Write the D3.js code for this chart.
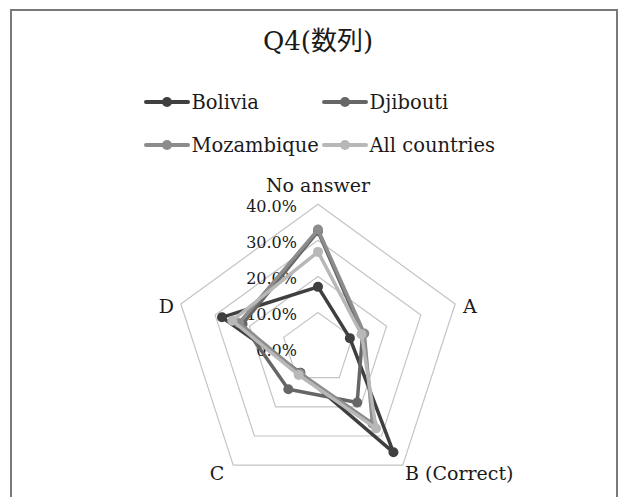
<!DOCTYPE html>
<html>
<head>
<meta charset="utf-8">
<script src="https://cdn.jsdelivr.net/npm/d3@7"></script>
<style>
  html, body { margin: 0; padding: 0; background: #ffffff; }
  svg { display: block; }
  text { font-family: "DejaVu Serif", "Noto Sans CJK JP", serif; fill: #1a1a1a; }
</style>
</head>
<body>
<svg id="chart" width="625" height="497"></svg>
<script>
// Answer options around the radar, clockwise from the top
const categories = ["No answer", "A", "B (Correct)", "C", "D"];

// Share of answers per option (percent)
const bolivia      = [17.1,  9.3, 35.6,  8.3, 28.0];
const djibouti     = [32.5, 13.0, 18.5, 14.0, 22.0];
const mozambique   = [33.0, 13.5, 25.7,  8.5, 23.0];
const allCountries = [26.8, 12.7, 27.4,  9.1, 25.0];

const seriesNames = ["Bolivia", "Djibouti", "Mozambique", "All countries"];
const tickValues = [0, 10, 20, 30, 40];
const tickLabels = ["0.0%", "10.0%", "20.0%", "30.0%", "40.0%"];

const seriesColors = ["#3f3f3f", "#666666", "#8c8c8c", "#b8b8b8"];
const seriesData = [bolivia, djibouti, mozambique, allCountries];

const svg = d3.select("#chart");
const H = 497;

// chart frame
svg.append("rect")
  .attr("x", 11).attr("y", 10)
  .attr("width", 606).attr("height", H)
  .attr("fill", "#fff")
  .attr("stroke", "#7a7a7a")
  .attr("stroke-width", 2);

// title
svg.append("text")
  .attr("x", 318).attr("y", 50)
  .attr("text-anchor", "middle")
  .style("font-size", "26px")
  .text("Q4(数列)");

// legend: two rows, two columns
const legendPos = [
  { x: 146, y: 102 }, { x: 324, y: 102 },
  { x: 146, y: 145 }, { x: 324, y: 145 }
];
const legend = svg.append("g");
seriesNames.forEach((name, i) => {
  const p = legendPos[i];
  const g = legend.append("g").attr("transform", `translate(${p.x},${p.y})`);
  g.append("line")
    .attr("x1", 0).attr("x2", 42).attr("y1", 0).attr("y2", 0)
    .attr("stroke", seriesColors[i]).attr("stroke-width", 4)
    .attr("stroke-linecap", "round");
  g.append("circle")
    .attr("cx", 21).attr("cy", 0).attr("r", 5)
    .attr("fill", seriesColors[i]);
  g.append("text")
    .attr("x", 45.5).attr("y", 0).attr("dy", "0.36em")
    .style("font-size", "19.5px")
    .text(name);
});

// radar geometry
const cx = 318, cy = 348.5;
const r = d3.scaleLinear().domain([0, 40]).range([0, 144.2]);
const ang = c => categories.indexOf(c) * 2 * Math.PI / categories.length;
const pt = (c, v) => [cx + r(v) * Math.sin(ang(c)), cy - r(v) * Math.cos(ang(c))];

const plot = svg.append("g");

// grid rings
tickValues.filter(t => t > 0).forEach(t => {
  plot.append("polygon")
    .attr("points", categories.map(c => pt(c, t).join(",")).join(" "))
    .attr("fill", "none")
    .attr("stroke", "#c4c4c4")
    .attr("stroke-width", 1.2);
});

// tick labels along the top spoke
tickValues.forEach((t, i) => {
  plot.append("text")
    .attr("x", 297).attr("y", cy - r(t) + 1.5)
    .attr("dy", "0.36em")
    .attr("text-anchor", "end")
    .style("font-size", "16px")
    .text(tickLabels[i]);
});

// category labels
const labelPos = {
  "No answer":   { dx: 0,    dy: -157, anchor: "middle" },
  "A":           { dx: 145,  dy: -36,  anchor: "start" },
  "B (Correct)": { dx: 87,   dy: 131,  anchor: "start" },
  "C":           { dx: -101, dy: 131,  anchor: "middle" },
  "D":           { dx: -144, dy: -36,  anchor: "end" }
};
categories.forEach(c => {
  const lp = labelPos[c];
  plot.append("text")
    .attr("x", cx + lp.dx).attr("y", cy + lp.dy)
    .attr("text-anchor", lp.anchor)
    .style("font-size", "19px")
    .text(c);
});

// series
const line = d3.line().curve(d3.curveLinearClosed);
seriesData.forEach((vals, i) => {
  const pts = categories.map((c, k) => pt(c, vals[k]));
  plot.append("path")
    .attr("d", line(pts))
    .attr("fill", "none")
    .attr("stroke", seriesColors[i])
    .attr("stroke-width", 3.5)
    .attr("stroke-linejoin", "round");
  plot.selectAll(null).data(pts).enter().append("circle")
    .attr("cx", d => d[0]).attr("cy", d => d[1])
    .attr("r", 5)
    .attr("fill", seriesColors[i]);
});
</script>
</body>
</html>
